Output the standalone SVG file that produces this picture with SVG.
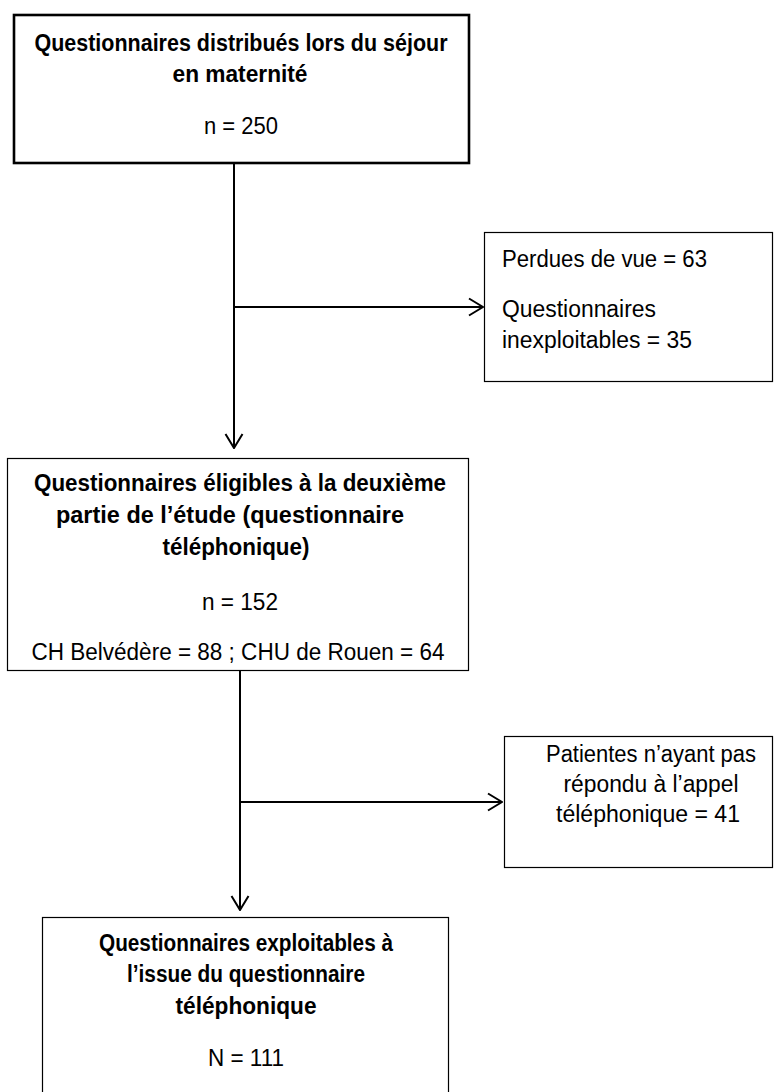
<svg xmlns="http://www.w3.org/2000/svg" width="774" height="1092" viewBox="0 0 774 1092">
<style>
.t{font-family:"Liberation Sans",Arial,sans-serif;font-size:23px;fill:#000}
.b{font-weight:bold}
.c{text-anchor:middle}
.box{fill:#fff;stroke:#000;stroke-width:1.2}
.conn{fill:none;stroke:#000;stroke-width:2}
</style>
<defs>
<marker id="arr" viewBox="0 0 16 20" refX="15" refY="10" markerWidth="16" markerHeight="20" markerUnits="userSpaceOnUse" orient="auto">
<path d="M1,1.5 L15,10 L1,18.5" fill="none" stroke="#000" stroke-width="2"/>
</marker>
</defs>
<g id="connectors">
<line class="conn" x1="234" y1="163" x2="234" y2="448" marker-end="url(#arr)"/>
<line class="conn" x1="234" y1="307" x2="483" y2="307" marker-end="url(#arr)"/>
<line class="conn" x1="240" y1="671" x2="240" y2="910" marker-end="url(#arr)"/>
<line class="conn" x1="240" y1="802" x2="502" y2="802" marker-end="url(#arr)"/>
</g>
<g id="n1">
<rect x="14" y="15" width="455" height="148" fill="#fff" stroke="#000" stroke-width="2.6"/>
<text class="t b c" x="241" y="51" textLength="413" lengthAdjust="spacingAndGlyphs">Questionnaires distribués lors du séjour</text>
<text class="t b c" x="240" y="82" textLength="135" lengthAdjust="spacingAndGlyphs">en maternité</text>
<text class="t c" x="241" y="134" textLength="74" lengthAdjust="spacingAndGlyphs">n = 250</text>
</g>
<g id="n2">
<rect class="box" x="484.5" y="232.5" width="288" height="149"/>
<text class="t" x="502" y="267" textLength="205" lengthAdjust="spacingAndGlyphs">Perdues de vue = 63</text>
<text class="t" x="502" y="317" textLength="154" lengthAdjust="spacingAndGlyphs">Questionnaires</text>
<text class="t" x="502" y="348" textLength="190" lengthAdjust="spacingAndGlyphs">inexploitables = 35</text>
</g>
<g id="n3">
<rect class="box" x="7.5" y="458.5" width="461" height="212"/>
<text class="t b c" x="240" y="491" textLength="412" lengthAdjust="spacingAndGlyphs">Questionnaires éligibles à la deuxième</text>
<text class="t b c" x="230" y="523" textLength="348" lengthAdjust="spacingAndGlyphs">partie de l’étude (questionnaire</text>
<text class="t b c" x="236" y="555" textLength="147" lengthAdjust="spacingAndGlyphs">téléphonique)</text>
<text class="t c" x="240" y="610" textLength="76" lengthAdjust="spacingAndGlyphs">n = 152</text>
<text class="t c" x="238" y="660" textLength="413" lengthAdjust="spacingAndGlyphs">CH Belvédère = 88 ; CHU de Rouen = 64</text>
</g>
<g id="n4">
<rect class="box" x="504.5" y="736.5" width="268" height="131"/>
<text class="t c" x="651" y="762" textLength="210" lengthAdjust="spacingAndGlyphs">Patientes n’ayant pas</text>
<text class="t c" x="651" y="792" textLength="175" lengthAdjust="spacingAndGlyphs">répondu à l’appel</text>
<text class="t c" x="648" y="822" textLength="184" lengthAdjust="spacingAndGlyphs">téléphonique = 41</text>
</g>
<g id="n5">
<rect class="box" x="42.5" y="917.5" width="406" height="180"/>
<text class="t b c" x="246" y="951" textLength="294" lengthAdjust="spacingAndGlyphs">Questionnaires exploitables à</text>
<text class="t b c" x="246" y="982" textLength="238" lengthAdjust="spacingAndGlyphs">l’issue du questionnaire</text>
<text class="t b c" x="246" y="1014" textLength="141" lengthAdjust="spacingAndGlyphs">téléphonique</text>
<text class="t c" x="246" y="1066" textLength="76" lengthAdjust="spacingAndGlyphs">N = 111</text>
</g>
</svg>
